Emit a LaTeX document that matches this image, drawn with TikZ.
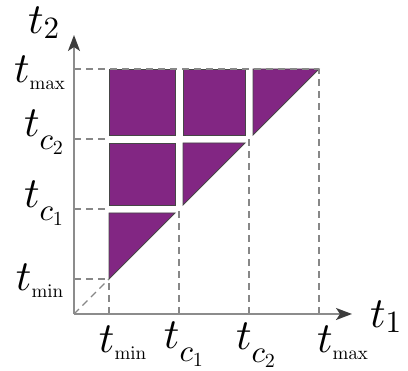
\documentclass[tikz,border=0pt]{standalone}
\usetikzlibrary{arrows.meta}
\DeclareFontFamily{OML}{bigcmm}{\skewchar\font=127}
\DeclareFontShape{OML}{bigcmm}{m}{it}{<-> cmmi10}{}
\DeclareFontFamily{OT1}{bigcmr}{}
\DeclareFontShape{OT1}{bigcmr}{m}{n}{<-> cmr10}{}
\newcommand\cmit{\fontencoding{OML}\fontfamily{bigcmm}\fontseries{m}\fontshape{it}\selectfont}
\newcommand\cmup{\fontencoding{OT1}\fontfamily{bigcmr}\fontseries{m}\fontshape{n}\selectfont}
\definecolor{blockpurple}{RGB}{130,38,131}
\definecolor{axisgray}{RGB}{140,140,140}
\definecolor{tipgray}{RGB}{60,60,60}
\definecolor{edgegray}{RGB}{70,70,70}
\definecolor{dashgray}{RGB}{135,135,135}
\newcommand\tmain{{\fontsize{43}{43}\cmit t}}
\newcommand\tword[1]{\tmain\raisebox{-7pt}{\fontsize{19}{19}\cmup #1}}
\newcommand\tcl[1]{\tmain\raisebox{-13pt}{{\fontsize{31}{31}\cmit c}\raisebox{-5pt}{\fontsize{20}{20}\cmup #1}}}
\newcommand\tax[1]{\tmain\raisebox{-5pt}{\fontsize{31}{31}\cmup #1}}
\tikzset{
  block/.style={fill=blockpurple, draw=edgegray, line width=0.9pt, line join=miter},
  guide/.style={draw=dashgray, line width=1.1pt, dash pattern=on 7pt off 5pt},
  axisline/.style={draw=axisgray, line width=2pt, -{Stealth[length=16pt,width=12pt,inset=4pt,color=tipgray]}},
  lab/.style={anchor=base west, inner sep=0pt, outer sep=0pt}
}
\begin{document}
\begin{tikzpicture}[x=1pt,y=-1pt]
\useasboundingbox (0,0) rectangle (408,371);
% grid values
\def\XA{109}\def\XB{179}\def\XC{249}\def\XD{319}
\def\YA{279}\def\YB{209}\def\YC{139}\def\YD{69}
\def\g{4}
\coordinate (O) at (74,314);
\coordinate (xend) at (352,314);
\coordinate (yend) at (74,35);
\coordinate (pA) at (\XA,\YA);
\coordinate (pB) at (\XB,\YB);
\coordinate (pC) at (\XC,\YC);
\coordinate (pD) at (\XD,\YD);
% blocks
\draw[block] (\XA,\YA) -- (\XA,\YB+\g) -- (\XB-\g,\YB+\g) -- cycle;
\draw[block] (\XA,\YB-\g) rectangle (\XB-\g,\YC+\g);
\draw[block] (\XB+\g,\YB-\g) -- (\XB+\g,\YC+\g) -- (\XC-\g,\YC+\g) -- cycle;
\draw[block] (\XA,\YC-\g) rectangle (\XB-\g,\YD);
\draw[block] (\XB+\g,\YC-\g) rectangle (\XC-\g,\YD);
\draw[block] (\XC+\g,\YC-\g) -- (\XC+\g,\YD) -- (\XD,\YD) -- cycle;
% guides
\draw[guide] (O) -- (pA);
\draw[guide] (O |- pA) -- (pA);
\draw[guide] (O |- pB) -- (\XA,\YB);
\draw[guide] (O |- pC) -- (\XA,\YC);
\draw[guide] (O |- pD) -- (pD);
\draw[guide] (O -| pA) -- (pA);
\draw[guide] (O -| pB) -- (pB);
\draw[guide] (O -| pC) -- (pC);
\draw[guide] (O -| pD) -- (pD);
% axes
\draw[axisline] (O) -- (xend);
\draw[axisline] (O) -- (yend);
% labels
\node[lab] (ltwo) at (28,34) {\tax{2}};
\node[lab] (lone) at (370,328) {\tax{1}};
\node[lab] (lymax) at (14,83) {\tword{max}};
\node[lab] (lyctwo) at (24,137) {\tcl{2}};
\node[lab] (lycone) at (24,208) {\tcl{1}};
\node[lab] (lymin) at (16,291) {\tword{min}};
\node[lab] (lxmin) at (99,353) {\tword{min}};
\node[lab] (lxcone) at (164,349) {\tcl{1}};
\node[lab] (lxctwo) at (236,350) {\tcl{2}};
\node[lab] (lxmax) at (317,353) {\tword{max}};
\end{tikzpicture}
\end{document}
